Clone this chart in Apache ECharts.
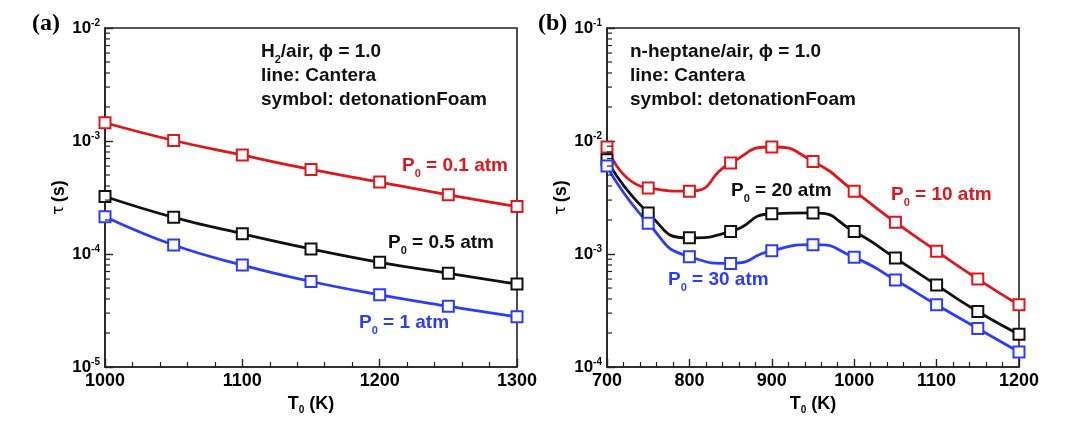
<!DOCTYPE html>
<html>
<head>
<meta charset="utf-8">
<script src="https://cdn.jsdelivr.net/npm/echarts@6/dist/echarts.min.js"></script>
<style>
  html, body { margin: 0; padding: 0; background: #fff; }
  #chart { width: 1080px; height: 423px; }
</style>
</head>
<body>
<div id="chart"></div>
<script>
// panel (a): H2/air
const tempsA = [1000, 1050, 1100, 1150, 1200, 1250, 1300];
const tauA_p01 = [1.45e-3, 1.01e-3, 7.5e-4, 5.6e-4, 4.33e-4, 3.34e-4, 2.63e-4];
const tauA_p05 = [3.23e-4, 2.11e-4, 1.51e-4, 1.11e-4, 8.45e-5, 6.75e-5, 5.42e-5];
const tauA_p1 = [2.14e-4, 1.2e-4, 7.98e-5, 5.71e-5, 4.35e-5, 3.45e-5, 2.78e-5];

// panel (b): n-heptane/air
const tempsB = [700, 750, 800, 850, 900, 950, 1000, 1050, 1100, 1150, 1200];
const tauB_p10 = [8.85e-3, 3.83e-3, 3.6e-3, 6.38e-3, 8.85e-3, 6.6e-3, 3.6e-3, 1.91e-3, 1.06e-3, 6.0e-4, 3.55e-4];
const tauB_p20 = [6.83e-3, 2.31e-3, 1.39e-3, 1.58e-3, 2.27e-3, 2.31e-3, 1.58e-3, 9.2e-4, 5.31e-4, 3.1e-4, 1.95e-4];
const tauB_p30 = [6.0e-3, 1.87e-3, 9.47e-4, 8.26e-4, 1.07e-3, 1.21e-3, 9.34e-4, 5.88e-4, 3.55e-4, 2.19e-4, 1.36e-4];

// log axis minor ticks
const decadesA = [1e-5, 1e-4, 1e-3];
const decadesB = [1e-4, 1e-3, 1e-2];
const minorMult = [2, 3, 4, 5, 6, 7, 8, 9];

const RED = "#e0161c";
const BLACK = "#111111";
const BLUE = "#2b3cff";
const AXIS = "#222";
const FONT = "Liberation Sans, Arial, sans-serif";

const zip = ( xs, ys ) => xs.map( ( x, i ) => [ x, ys[ i ] ] );

function minorData( xMin, decades ) {
	const out = [];
	decades.forEach( d => minorMult.forEach( m => out.push( [ xMin, d * m ] ) ) );
	return out;
}

function lineSeries( name, color, data, idx, smooth ) {
	return {
		name,
		type: "line",
		xAxisIndex: idx,
		yAxisIndex: idx,
		data,
		smooth,
		symbol: "emptyRect",
		symbolSize: 11,
		lineStyle: { color, width: 2.8 },
		itemStyle: { color, borderColor: color, borderWidth: 2.8 },
		z: 3
	};
}

function minorSeries( idx, data ) {
	return {
		type: "custom",
		coordinateSystem: "cartesian2d",
		xAxisIndex: idx,
		yAxisIndex: idx,
		silent: true,
		clip: false,
		data,
		encode: { x: 0, y: 1 },
		renderItem: ( params, api ) => {
			const p = api.coord( [ api.value( 0 ), api.value( 1 ) ] );
			return {
				type: "line",
				shape: { x1: p[ 0 ], y1: p[ 1 ], x2: p[ 0 ] + 5, y2: p[ 1 ] },
				style: { stroke: AXIS, lineWidth: 1.2 }
			};
		},
		z: 5
	};
}

const yLabel = {
	fontFamily: FONT,
	margin: 5,
	formatter: v => `{b|10}{s|${ Math.round( Math.log10( v ) ) }}`,
	rich: {
		b: { fontSize: 17, fontWeight: "bold", fontFamily: FONT, color: "#000", lineHeight: 20 },
		s: { fontSize: 10, fontWeight: "bold", fontFamily: FONT, color: "#000", verticalAlign: "top", lineHeight: 10 }
	}
};

function xAxis( idx, min, max ) {
	return {
		type: "value",
		gridIndex: idx,
		min,
		max,
		interval: 100,
		name: "{a|T}{s|0}{a| (K)}",
		nameLocation: "middle",
		nameGap: 22,
		nameTextStyle: {
			rich: {
				a: { fontSize: 18, fontWeight: "bold", fontFamily: FONT, color: "#000", lineHeight: 22 },
				s: { fontSize: 10, fontWeight: "bold", fontFamily: FONT, color: "#000", verticalAlign: "bottom", lineHeight: 22 }
			}
		},
		axisLine: { lineStyle: { color: AXIS, width: 1.6 } },
		axisTick: { inside: true, length: 8, lineStyle: { color: AXIS, width: 1.4 } },
		minorTick: { show: true, splitNumber: 5, length: 5, lineStyle: { color: AXIS, width: 1.2 } },
		axisLabel: {
			fontSize: 18, fontWeight: "bold", fontFamily: FONT, color: "#000", margin: 5,
			formatter: v => String( v )
		},
		splitLine: { show: false }
	};
}

function yAxis( idx, min, max ) {
	return {
		type: "log",
		logBase: 10,
		gridIndex: idx,
		min,
		max,
		name: "{t|τ} {a|(s)}",
		nameLocation: "middle",
		nameRotate: 90,
		nameGap: 36,
		nameTextStyle: {
			rich: {
				t: { fontSize: 15, fontFamily: "DejaVu Sans", color: "#000" },
				a: { fontSize: 18, fontWeight: "bold", fontFamily: FONT, color: "#000" }
			}
		},
		axisLine: { lineStyle: { color: AXIS, width: 1.6 } },
		axisTick: { inside: true, length: 8, lineStyle: { color: AXIS, width: 1.4 } },
		axisLabel: yLabel,
		splitLine: { show: false }
	};
}

function txt( x, y, text, color ) {
	return {
		type: "text",
		x,
		y,
		z: 10,
		style: {
			text,
			align: "left",
			verticalAlign: "middle",
			fill: color,
			font: `bold 19px ${ FONT }`,
			rich: {
				a: { fontSize: 19, fontWeight: "bold", fontFamily: FONT, fill: color, lineHeight: 24 },
				s: { fontSize: 11, fontWeight: "bold", fontFamily: FONT, fill: color, verticalAlign: "bottom", lineHeight: 26 }
			}
		}
	};
}

const chart = echarts.init( document.getElementById( "chart" ) );

chart.setOption( {
	animation: false,
	backgroundColor: "#fff",
	grid: [
		{ left: 105, top: 28, width: 412, height: 339, show: true, borderColor: AXIS, borderWidth: 1.6 },
		{ left: 607, top: 28, width: 412, height: 339, show: true, borderColor: AXIS, borderWidth: 1.6 }
	],
	xAxis: [ xAxis( 0, 1000, 1300 ), xAxis( 1, 700, 1200 ) ],
	yAxis: [ yAxis( 0, 1e-5, 1e-2 ), yAxis( 1, 1e-4, 1e-1 ) ],
	series: [
		minorSeries( 0, minorData( 1000, decadesA ) ),
		minorSeries( 1, minorData( 700, decadesB ) ),
		lineSeries( "P0 = 0.1 atm", RED, zip( tempsA, tauA_p01 ), 0, 0.45 ),
		lineSeries( "P0 = 0.5 atm", BLACK, zip( tempsA, tauA_p05 ), 0, 0.45 ),
		lineSeries( "P0 = 1 atm", BLUE, zip( tempsA, tauA_p1 ), 0, 0.45 ),
		lineSeries( "P0 = 10 atm", RED, zip( tempsB, tauB_p10 ), 1, 0.6 ),
		lineSeries( "P0 = 20 atm", BLACK, zip( tempsB, tauB_p20 ), 1, 0.6 ),
		lineSeries( "P0 = 30 atm", BLUE, zip( tempsB, tauB_p30 ), 1, 0.6 )
	],
	graphic: [
		{ type: "text", x: 32, y: 12, style: { text: "(a)", font: "bold 24px Liberation Serif, serif", fill: "#000" } },
		{ type: "text", x: 538, y: 12, style: { text: "(b)", font: "bold 24px Liberation Serif, serif", fill: "#000" } },

		txt( 261, 52, "{a|H}{s|2}{a|/air, ϕ = 1.0}", BLACK ),
		txt( 261, 76, "{a|line: Cantera}", BLACK ),
		txt( 261, 100, "{a|symbol: detonationFoam}", BLACK ),
		txt( 402, 166, "{a|P}{s|0}{a| = 0.1 atm}", RED ),
		txt( 388, 243, "{a|P}{s|0}{a| = 0.5 atm}", BLACK ),
		txt( 359, 323, "{a|P}{s|0}{a| = 1 atm}", BLUE ),

		txt( 630, 52, "{a|n-heptane/air, ϕ = 1.0}", BLACK ),
		txt( 630, 76, "{a|line: Cantera}", BLACK ),
		txt( 630, 100, "{a|symbol: detonationFoam}", BLACK ),
		txt( 731, 191, "{a|P}{s|0}{a| = 20 atm}", BLACK ),
		txt( 891, 195, "{a|P}{s|0}{a| = 10 atm}", RED ),
		txt( 668, 280, "{a|P}{s|0}{a| = 30 atm}", BLUE )
	]
} );
</script>
</body>
</html>
